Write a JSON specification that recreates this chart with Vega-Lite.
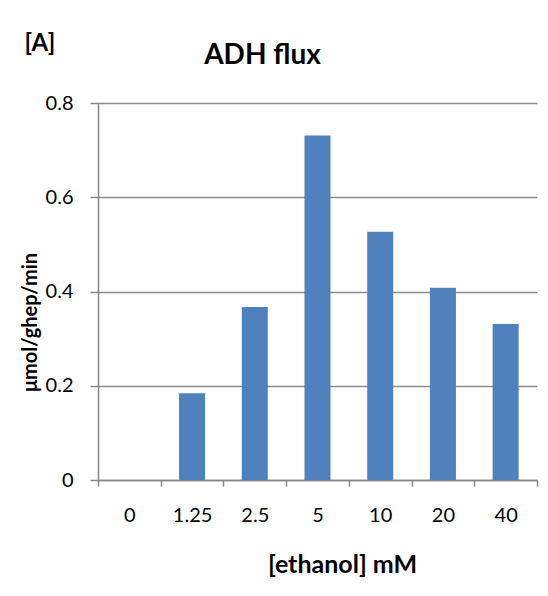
{
  "$schema": "https://vega.github.io/schema/vega-lite/v6.json",
  "width": 439,
  "height": 377,
  "autosize": "none",
  "padding": {"left": 98, "top": 103, "right": 11, "bottom": 116},
  "background": "white",
  "title": {
    "text": "ADH flux",
    "font": "Lato",
    "fontSize": 28,
    "fontWeight": "bold",
    "color": "#000000",
    "anchor": "middle",
    "baseline": "alphabetic",
    "offset": -61,
    "dx": -55
  },
  "data": {
    "values": [
      {"ethanol": "0", "flux": 0},
      {"ethanol": "1.25", "flux": 0.184},
      {"ethanol": "2.5", "flux": 0.367},
      {"ethanol": "5", "flux": 0.731},
      {"ethanol": "10", "flux": 0.527},
      {"ethanol": "20", "flux": 0.408},
      {"ethanol": "40", "flux": 0.331}
    ]
  },
  "layer": [
    {
      "mark": {"type": "bar", "color": "#4F81BD", "width": {"band": 0.415}},
      "encoding": {
        "x": {
          "field": "ethanol",
          "type": "ordinal",
          "sort": null,
          "scale": {"paddingInner": 0, "paddingOuter": 0},
          "axis": {
            "title": "[ethanol] mM",
            "titleFont": "Lato",
            "titleFontSize": 25,
            "titleFontWeight": "bold",
            "titleColor": "#000000",
            "titleX": 244,
            "titleY": 92,
            "titleAlign": "center",
            "titleBaseline": "alphabetic",
            "labelAngle": 0,
            "labelFont": "Lato",
            "labelFontSize": 20,
            "labelColor": "#000000",
            "labelPadding": 19,
            "tickBand": "extent",
            "tickSize": 6,
            "tickColor": "#868686",
            "tickWidth": 1.5,
            "domainColor": "#868686",
            "domainWidth": 1.5,
            "grid": false
          }
        },
        "y": {
          "field": "flux",
          "type": "quantitative",
          "scale": {"domain": [0, 0.8], "nice": false},
          "axis": {
            "title": "μmol/ghep/min",
            "titleFont": "Lato",
            "titleFontSize": 20,
            "titleFontWeight": "bold",
            "titleColor": "#000000",
            "titleAngle": 270,
            "titleX": -68,
            "titleY": 219,
            "titleAlign": "center",
            "titleBaseline": "middle",
            "values": [0, 0.2, 0.4, 0.6, 0.8],
            "format": ".1~f",
            "labelFont": "Lato",
            "labelFontSize": 20,
            "labelColor": "#000000",
            "labelPadding": 17,
            "tickSize": 8,
            "tickColor": "#868686",
            "tickWidth": 1.5,
            "domainColor": "#868686",
            "domainWidth": 1.5,
            "grid": true,
            "gridColor": "#8c8c8c",
            "gridWidth": 1.5
          }
        }
      }
    },
    {
      "mark": {"type": "bar", "opacity": 0},
      "encoding": {
        "x": {
          "field": "ethanol",
          "type": "ordinal",
          "sort": null,
          "axis": {
            "orient": "top",
            "title": "[A]",
            "titleFont": "Lato",
            "titleFontSize": 24,
            "titleFontWeight": "bold",
            "titleColor": "#000000",
            "titleX": -74,
            "titleY": -53,
            "titleAlign": "left",
            "titleBaseline": "alphabetic",
            "labels": false,
            "ticks": false,
            "domain": false,
            "grid": false
          }
        },
        "y": {"field": "flux", "type": "quantitative"}
      }
    }
  ],
  "resolve": {"axis": {"x": "independent"}},
  "config": {"view": {"stroke": null}}
}
